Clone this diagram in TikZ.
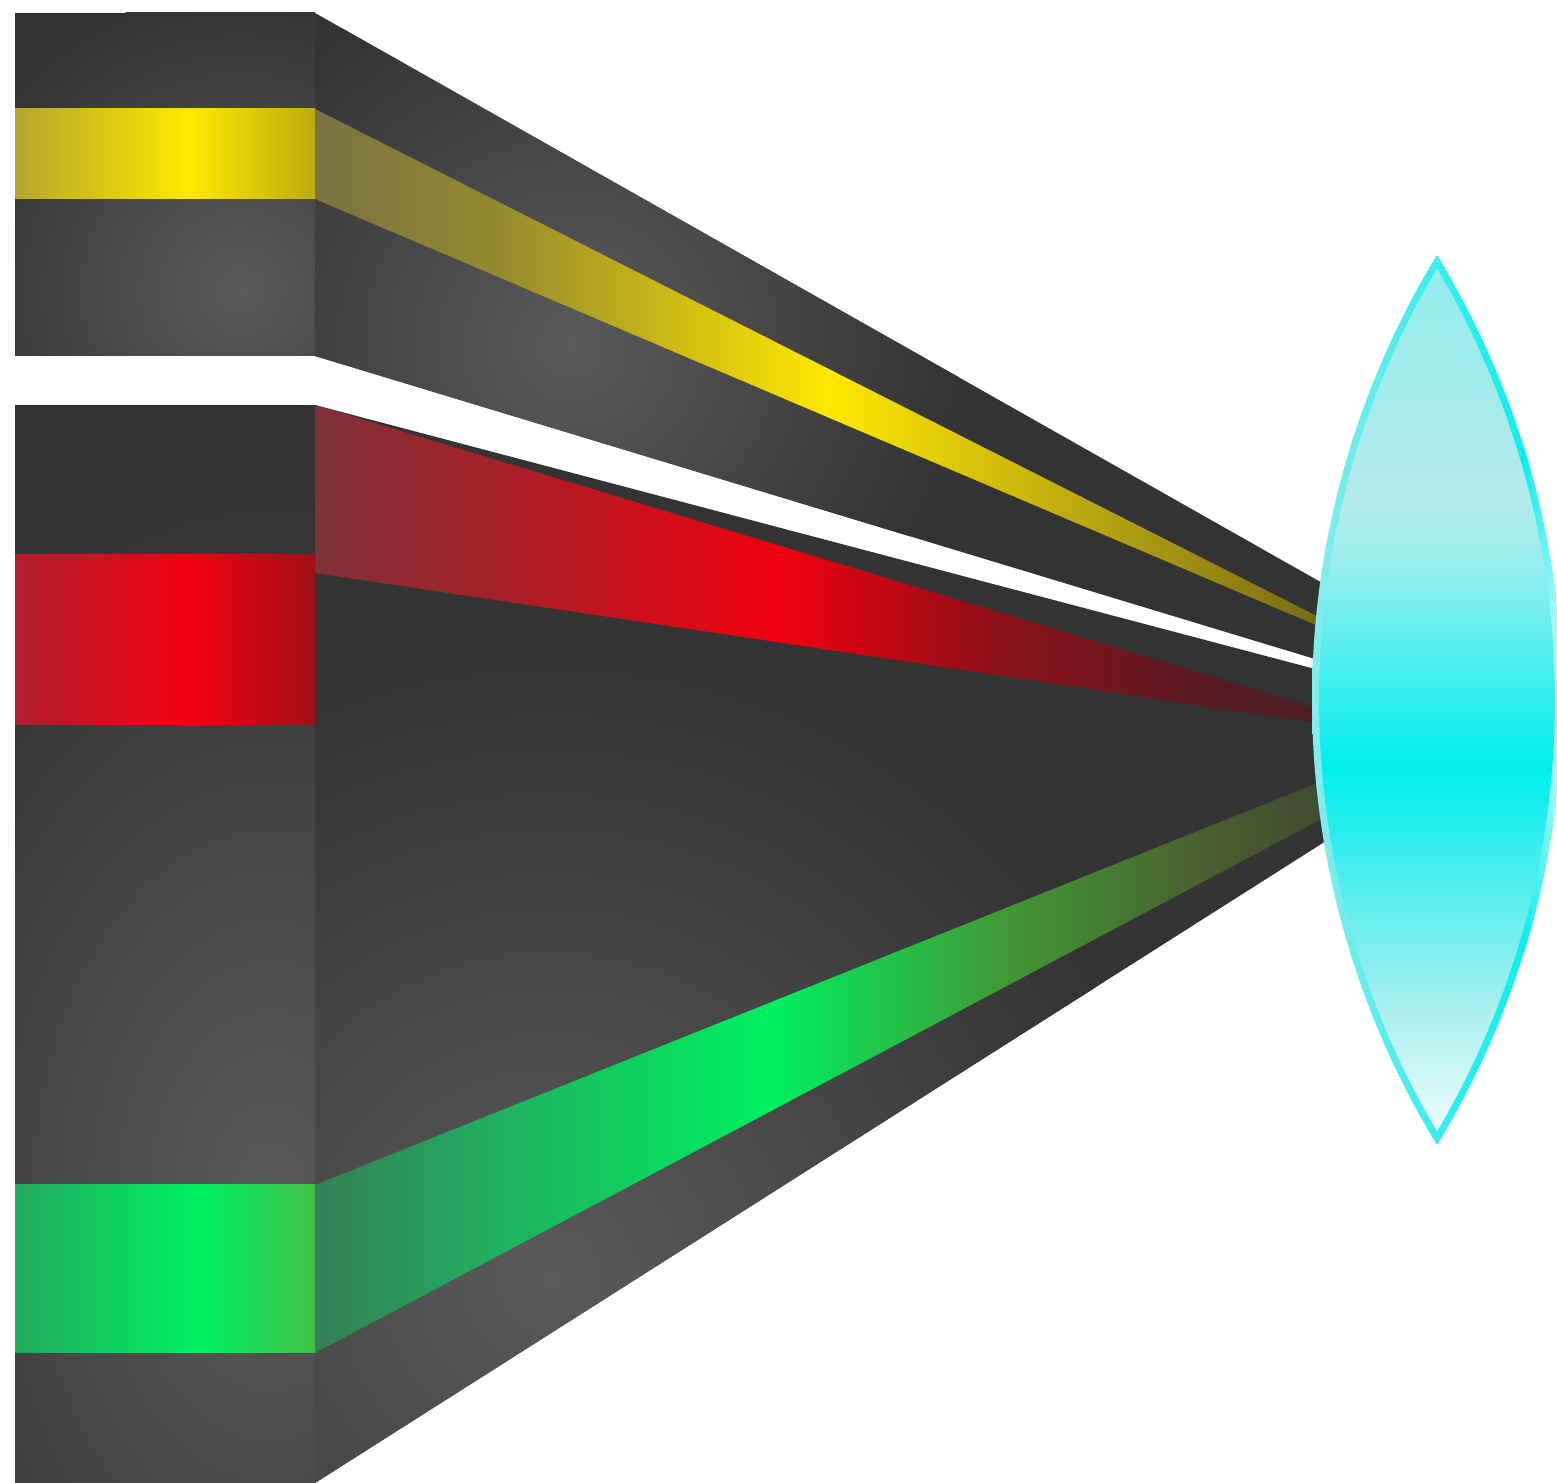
\documentclass[tikz,border=0pt]{standalone}
\usetikzlibrary{shadings}

% greys of the body
\definecolor{dk}{HTML}{333333}
\definecolor{lt}{HTML}{5A5A5A}
% bands on the blocks
\definecolor{ya}{HTML}{B5A52A}\definecolor{yb}{HTML}{FFE900}\definecolor{yc}{HTML}{BCAA10}
\definecolor{ra}{HTML}{B02030}\definecolor{rb}{HTML}{F2000F}\definecolor{rc}{HTML}{A01018}
\definecolor{ga}{HTML}{22AA60}\definecolor{gb}{HTML}{00F060}\definecolor{gc}{HTML}{40C048}
% rays
\definecolor{yr0}{HTML}{7A7242}\definecolor{yr1}{HTML}{95892E}\definecolor{yrp}{HTML}{FFE800}
\definecolor{yr2}{HTML}{D2BC0C}\definecolor{yr3}{HTML}{9A8A14}\definecolor{yr4}{HTML}{706418}
\definecolor{rr0}{HTML}{7E3238}\definecolor{rr1}{HTML}{A62028}\definecolor{rrp}{HTML}{F0000F}
\definecolor{rr2}{HTML}{8A1018}\definecolor{rr3}{HTML}{5A1A22}\definecolor{rr4}{HTML}{4A2026}
\definecolor{gr0}{HTML}{357F55}\definecolor{gr1}{HTML}{20B060}\definecolor{grp}{HTML}{00F060}
\definecolor{gr2}{HTML}{3F9A35}\definecolor{gr3}{HTML}{4A6030}\definecolor{gr4}{HTML}{404530}
% lens
\definecolor{l1}{HTML}{95ECEC}\definecolor{l2}{HTML}{9CECEC}\definecolor{l3}{HTML}{B4EAEA}
\definecolor{l4}{HTML}{9AEEEE}\definecolor{l5}{HTML}{5EEEEE}\definecolor{l6}{HTML}{00EEEE}
\definecolor{l7}{HTML}{48EEEE}\definecolor{l8}{HTML}{A5EEEE}\definecolor{l9}{HTML}{EEFCFC}
\definecolor{rimL}{HTML}{88ECEC}\definecolor{rimM}{HTML}{38EEEE}\definecolor{rimR}{HTML}{00EEEE}
\definecolor{hl}{HTML}{EEFBFB}

% band shadings (bounding box maps to 25bp..75bp)
\pgfdeclarehorizontalshading{yband}{100bp}{color(0bp)=(ya); color(25bp)=(ya); color(54.2bp)=(yb); color(75bp)=(yc); color(100bp)=(yc)}
\pgfdeclarehorizontalshading{rband}{100bp}{color(0bp)=(ra); color(25bp)=(ra); color(54.2bp)=(rb); color(75bp)=(rc); color(100bp)=(rc)}
\pgfdeclarehorizontalshading{gband}{100bp}{color(0bp)=(ga); color(25bp)=(ga); color(55.8bp)=(gb); color(75bp)=(gc); color(100bp)=(gc)}
\pgfdeclarehorizontalshading{yray}{100bp}{color(0bp)=(yr0); color(25bp)=(yr0); color(34bp)=(yr1); color(50.1bp)=(yrp); color(58.4bp)=(yr2); color(68.2bp)=(yr3); color(75bp)=(yr4); color(100bp)=(yr4)}
\pgfdeclarehorizontalshading{rray}{100bp}{color(0bp)=(rr0); color(25bp)=(rr0); color(34bp)=(rr1); color(47.7bp)=(rrp); color(58.4bp)=(rr2); color(68.2bp)=(rr3); color(75bp)=(rr4); color(100bp)=(rr4)}
\pgfdeclarehorizontalshading{gray}{100bp}{color(0bp)=(gr0); color(25bp)=(gr0); color(34bp)=(gr1); color(47.2bp)=(grp); color(58.4bp)=(gr2); color(68.2bp)=(gr3); color(75bp)=(gr4); color(100bp)=(gr4)}
\pgfdeclarehorizontalshading{lensrim}{100bp}{color(0bp)=(rimL); color(25bp)=(rimL); color(50bp)=(rimM); color(75bp)=(rimR); color(100bp)=(rimR)}
\pgfdeclareverticalshading{lensfill}{100bp}{color(0bp)=(l9); color(25bp)=(l9); color(32.6bp)=(l8); color(40bp)=(l7); color(46.1bp)=(l6); color(53.5bp)=(l5); color(58.1bp)=(l4); color(61.6bp)=(l3); color(71.4bp)=(l2); color(75bp)=(l1); color(100bp)=(l1)}

\tikzset{
  spot/.style={inner color=lt, outer color=dk},
  body/.style={fill=dk},
}

\begin{document}
\begin{tikzpicture}[x=0.01cm,y=-0.01cm]
\useasboundingbox (0,0) rectangle (1557,1483);
\clip (0,0) rectangle (1557,1483);

% upper funnel
\fill[body] (315,13) -- (1340,593) -- (1340,666.6) -- (315,356) -- cycle;
\begin{scope}
  \clip (315,13) -- (1340,593) -- (1340,666.6) -- (315,356) -- cycle;
  \shade[spot] (570,345) circle (390);
\end{scope}

% lower funnel
\fill[body] (315,405) -- (1340,675.6) -- (1340,832.1) -- (315,1483) -- cycle;
\begin{scope}
  \clip (315,405) -- (1340,675.6) -- (1340,832.1) -- (315,1483) -- cycle;
  \shade[spot] (550,1280) circle (620);
\end{scope}

% yellow ray
\begin{scope}
  \clip (315,109) -- (1340,627.7) -- (1340,635.3) -- (315,199) -- cycle;
  \shade[shading=yray] (315,100) rectangle (1340,640);
\end{scope}

% red ray
\begin{scope}
  \clip (315,405) -- (1340,715.3) -- (1340,726.4) -- (315,573) -- cycle;
  \shade[shading=rray] (315,400) rectangle (1340,730);
\end{scope}

% green ray
\begin{scope}
  \clip (315,1185) -- (1340,774) -- (1340,809.2) -- (315,1353) -- cycle;
  \shade[shading=gray] (315,770) rectangle (1340,1360);
\end{scope}

% upper block
\fill[body] (15,13) rectangle (315,356);
\begin{scope}
  \clip (15,13) rectangle (315,356);
  \shade[spot] (240,290) circle (300);
\end{scope}
\shade[shading=yband] (15,109) rectangle (315,199);

% lower block
\fill[body] (15,405) rectangle (315,1483);
\begin{scope}
  \clip (15,405) rectangle (315,1483);
  \shade[spot] (270,1200) ellipse [x radius=450, y radius=700];
\end{scope}
\shade[shading=rband] (15,555) rectangle (315,725);
\shade[shading=gband] (15,1185) rectangle (315,1353);

% lens rim
\begin{scope}
  \clip (1437,255) arc[start angle=211.38, end angle=148.62, radius=854.6]
        arc[start angle=31.38, end angle=-31.38, radius=854.6] -- cycle;
  \shade[shading=lensrim] (1312,250) rectangle (1562,1150);
  \shade[inner color=hl, outer color=rimR] (1568,700) ellipse [x radius=70, y radius=330];
\end{scope}

% lens body
\begin{scope}
  \clip (1437,268.6) arc[start angle=210.59, end angle=149.41, radius=847.6]
        arc[start angle=30.59, end angle=-30.59, radius=847.6] -- cycle;
  \shade[shading=lensfill] (1312,268.6) rectangle (1562,1131.4);
\end{scope}
\end{tikzpicture}
\end{document}
